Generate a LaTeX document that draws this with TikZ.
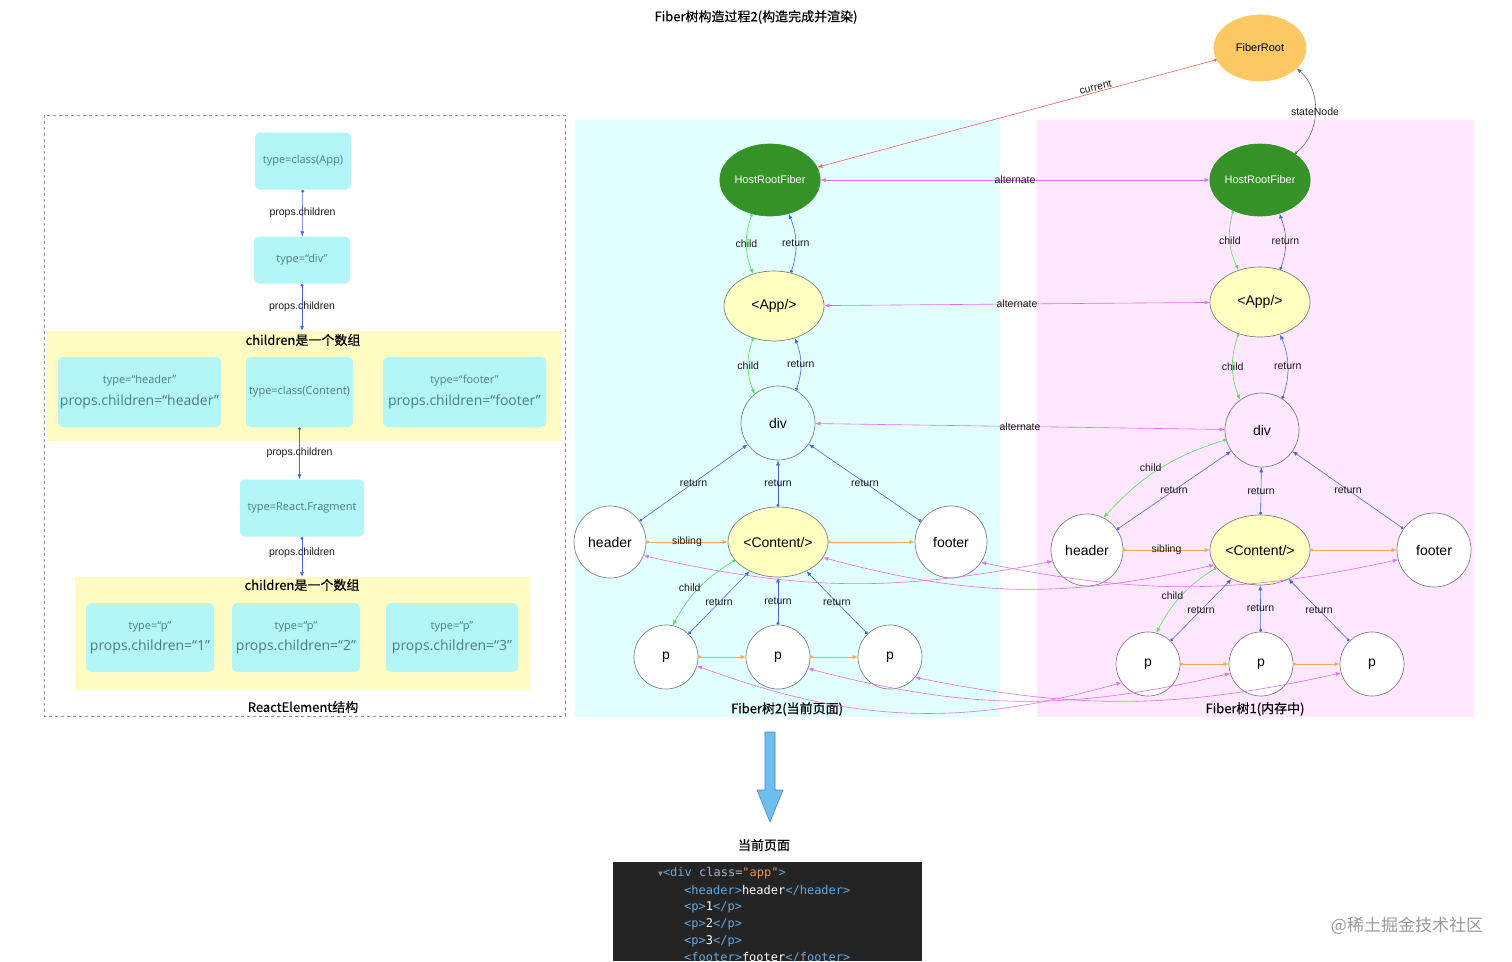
\documentclass[tikz,border=0pt]{standalone}
\usepackage{fontspec}
\setmainfont{Liberation Sans}
\setmonofont{DejaVu Sans Mono}
\newfontfamily\cjk[FakeBold=0.4]{Noto Sans CJK SC}
\newfontfamily\cjkplain{Noto Sans CJK SC}
\newfontfamily\boxfont{Open Sans}
\usetikzlibrary{arrows.meta,shapes.geometric}
\definecolor{cyanbox}{RGB}{178,246,248}
\definecolor{boxtext}{RGB}{75,125,135}
\definecolor{yelband}{RGB}{255,252,195}
\definecolor{bgcyan}{RGB}{225,255,255}
\definecolor{bgpink}{RGB}{255,232,255}
\definecolor{hostgreen}{RGB}{52,146,38}
\definecolor{appyel}{RGB}{255,255,194}
\definecolor{rootor}{RGB}{252,200,100}
\definecolor{retblue}{RGB}{70,100,230}
\definecolor{kidgreen}{RGB}{90,220,90}
\definecolor{sibor}{RGB}{245,170,80}
\definecolor{altmag}{RGB}{225,110,235}
\definecolor{curred}{RGB}{235,100,90}
\definecolor{arrblue}{RGB}{110,190,240}
\definecolor{codebg}{RGB}{36,36,36}
\definecolor{tagblue}{RGB}{100,170,225}
\definecolor{attrgray}{RGB}{170,180,200}
\definecolor{valor}{RGB}{235,150,80}
\newcommand\htag[1]{\textcolor{tagblue}{#1}}
\newcommand\propline{\boxfont\fontsize{14}{16}\selectfont}
\tikzset{
  endtips/.style={{Circle[length=3pt]}-{Latex[length=5pt,width=4pt]}},
  lbl/.style={font=\fontsize{10.5}{12}\selectfont, text=black!90, inner sep=1pt},
  elem/.style={fill=cyanbox, rounded corners=5pt, text=boxtext, align=center,
    inner sep=0pt, font=\boxfont\fontsize{11}{13}\selectfont},
  band/.style={fill=yelband, inner sep=0pt},
  captext/.style={font=\cjk\fontsize{13}{15}\selectfont},
  fibc/.style={circle, draw=black!50, fill=white, line width=0.7pt, inner sep=0pt,
    font=\fontsize{14}{16}\selectfont},
  fibe/.style={ellipse, draw=black!50, line width=0.7pt, inner sep=0pt,
    font=\fontsize{14}{16}\selectfont},
  host/.style={fibe, fill=hostgreen, draw=hostgreen, text=white,
    minimum width=92, minimum height=72, font=\fontsize{11}{13}\selectfont},
  comp/.style={fibe, fill=appyel, minimum width=100, minimum height=70},
  pc/.style={draw=retblue, line width=0.6pt, endtips},
  ret/.style={draw=retblue, line width=0.6pt, endtips},
  kid/.style={draw=kidgreen, line width=0.6pt, endtips},
  sib/.style={draw=sibor, line width=0.6pt, endtips},
  alt/.style={draw=altmag, line width=0.6pt, {Latex[length=5pt,width=4pt]}-{Latex[length=5pt,width=4pt]}},
  codeline/.style={anchor=west, inner sep=0pt, text=white, font=\ttfamily\fontsize{12}{14}\selectfont}
}
\begin{document}
\begin{tikzpicture}[x=1pt,y=-1pt]
\useasboundingbox (0,0) rectangle (1512,961);
\node[captext] (title) at (756,17) {Fiber树构造过程2(构造完成并渲染)};

% ReactElement
\draw[dashed, black!45] (44,115) rectangle (565,716);
\node[band, minimum width=514, minimum height=110] (arr1) at (304,386) {};
\node[band, minimum width=455, minimum height=113] (arr2) at (302.5,633.5) {};
\node[captext] (arr1t) at (303,340) {children是一个数组};
\node[captext] (arr2t) at (302,585) {children是一个数组};
\node[captext] (elt) at (303,707) {ReactElement结构};
\node[elem, minimum width=96, minimum height=57] (eapp) at (303,161) {type=class(App)};
\node[elem, minimum width=96, minimum height=47] (ediv) at (302,260) {type=“div”};
\node[elem, minimum width=163, minimum height=70] (ehdr) at (139.5,392) {type=“header”\\[7pt]{\propline props.children=“header”}};
\node[elem, minimum width=107, minimum height=70] (ecnt) at (299.5,392) {type=class(Content)};
\node[elem, minimum width=163, minimum height=70] (eftr) at (464.5,392) {type=“footer”\\[7pt]{\propline props.children=“footer”}};
\node[elem, minimum width=124, minimum height=57] (efrag) at (302,508) {type=React.Fragment};
\foreach \i/\x/\w in {1/150/128, 2/296/128, 3/452/132}{
  \node[elem, minimum width=\w, minimum height=69] (ep\i) at (\x,637.5) {type=“p”\\[7pt]{\propline props.children=“\i”}};
}
\draw[pc] (eapp) -- node[lbl]{props.children} (ediv);
\draw[pc] (ediv.south) -- node[lbl]{props.children} (ediv.south |- arr1.north);
\draw[pc] (ecnt.south) -- node[lbl]{props.children} (ecnt.south |- efrag.north);
\draw[pc] (efrag.south) -- node[lbl, pos=0.4]{props.children} (efrag.south |- arr2.north);

% Fiber trees
\fill[bgcyan] (575,120) rectangle (1000,717);
\fill[bgpink] (1037,120) rectangle (1474,717);
\node[captext] (t2) at (787,709) {Fiber树2(当前页面)};
\node[captext] (t1) at (1255,709) {Fiber树1(内存中)};

\node[fibe, fill=rootor, draw=rootor, minimum width=92, minimum height=66,
  font=\fontsize{11}{13}\selectfont] (root) at (1260,48) {FiberRoot};

\node[host] (hrf2) at (770,180) {HostRootFiber};
\node[comp] (app2) at (774,306) {<App/>};
\node[fibc, fill=none, minimum size=74] (div2) at (778,423) {div};
\node[fibc, minimum size=72] (hdr2) at (610,542) {header};
\node[comp] (cnt2) at (778,542) {<Content/>};
\node[fibc, minimum size=72] (ftr2) at (951,542) {footer};
\foreach \i/\x in {1/666, 2/778, 3/890}{
  \node[fibc, minimum size=64] (pa\i) at (\x,657) {p};
}

\node[host] (hrf1) at (1260,180) {HostRootFiber};
\node[comp] (app1) at (1260,302) {<App/>};
\node[fibc, fill=none, minimum size=74] (div1) at (1262,430) {div};
\node[fibc, minimum size=72] (hdr1) at (1087,550) {header};
\node[comp] (cnt1) at (1260,550) {<Content/>};
\node[fibc, minimum size=74] (ftr1) at (1434,550) {footer};
\foreach \i/\x in {1/1148, 2/1261, 3/1372}{
  \node[fibc, minimum size=64] (pb\i) at (\x,664) {p};
}

\draw[kid] (hrf2.242) to[bend right=20] node[lbl]{child} (app2.123);
\draw[ret] (app2.63) to[bend right=20] node[lbl]{return} (hrf2.299);
\draw[kid] (app2.237) to[bend right=20] node[lbl]{child} (div2.129);
\draw[ret] (div2.61) to[bend right=20] node[lbl]{return} (app2.303);
\foreach \a in {hdr2, cnt2, ftr2}{
  \draw[ret] (\a) -- node[lbl]{return} (div2);
}
\draw[sib] (hdr2) -- node[lbl]{sibling} (cnt2);
\draw[sib] (cnt2) -- (ftr2);
\draw[kid] (cnt2.203) to[bend right=15] node[lbl, left=-3pt]{child} (pa1.78);
\foreach \a in {pa1, pa2, pa3}{
  \draw[ret] (\a) -- node[lbl]{return} (cnt2);
}
\draw[sib] (pa1) -- (pa2);
\draw[sib] (pa2) -- (pa3);

\draw[kid] (hrf1.229) to[bend right=20] node[lbl]{child} (app1.124);
\draw[ret] (app1.58) to[bend right=20] node[lbl]{return} (hrf1.300);
\draw[kid] (app1.236) to[bend right=20] node[lbl]{child} (div1.126);
\draw[ret] (div1.57) to[bend right=20] node[lbl]{return} (app1.302);
\draw[kid] (div1.195) to[bend right=15] node[lbl, above left=-4pt]{child} (hdr1.63);
\foreach \a in {hdr1, cnt1, ftr1}{
  \draw[ret] (\a) -- node[lbl]{return} (div1);
}
\draw[sib] (hdr1) -- node[lbl]{sibling} (cnt1);
\draw[sib] (cnt1) -- (ftr1);
\draw[kid] (cnt1.202) to[bend right=15] node[lbl, left=-3pt]{child} (pb1.75);
\foreach \a in {pb1, pb2, pb3}{
  \draw[ret] (\a) -- node[lbl]{return} (cnt1);
}
\draw[sib] (pb1) -- (pb2);
\draw[sib] (pb2) -- (pb3);

\draw[draw=curred, line width=0.6pt, endtips] (root) -- node[lbl, pos=0.3, sloped, above]{current} (hrf2);
\draw[draw=black!60, line width=0.6pt, endtips] (hrf1.37) to[bend right=50] node[lbl]{stateNode} (root.331);
\draw[alt] (hrf2) -- node[lbl]{alternate} (hrf1);
\draw[alt] (app2) -- node[lbl]{alternate} (app1);
\draw[alt] (div2) -- node[lbl]{alternate} (div1);
\draw[alt] (hdr2.-22) to[bend right=12] (hdr1.198);
\draw[alt] (cnt2.-19) to[bend right=14] (cnt1.198);
\draw[alt] (ftr2.-34) to[bend right=12] (ftr1.195);
\draw[alt] (pa1.-16) to[bend right=18] (pb1.215);
\draw[alt] (pa2.-21) to[bend right=14] (pb2.197);
\draw[alt] (pa3.-39) to[bend right=12] (pb3.196);

% page
\filldraw[fill=arrblue, draw=arrblue!70!black, line width=0.6pt]
  (765,732) -- (775,732) -- (775,790) -- (783,790) -- (770,822) -- (757,790) -- (765,790) -- cycle;
\node[captext] (page) at (764,845) {当前页面};
\fill[codebg] (613,862) rectangle (922,961);
\node[codeline] (c1) at (658,873) {{\color{black!45}\fontsize{8}{8}\selectfont ▼}\htag{<div} \textcolor{attrgray}{class=}\textcolor{valor}{"app"}\htag{>}};
\node[codeline] (c2) at (684,890) {\htag{<header>}header\htag{</header>}};
\foreach \i/\y in {1/907, 2/924, 3/941}{
  \node[codeline] (cp\i) at (684,\y) {\htag{<p>}\i\htag{</p>}};
}
\node[codeline] (c6) at (684,957) {\htag{<footer>}footer\htag{</footer>}};

\node[font=\cjkplain\fontsize{17}{19}\selectfont, text=black!40] (mark) at (1407,926) {@稀土掘金技术社区};
\end{tikzpicture}
\end{document}
